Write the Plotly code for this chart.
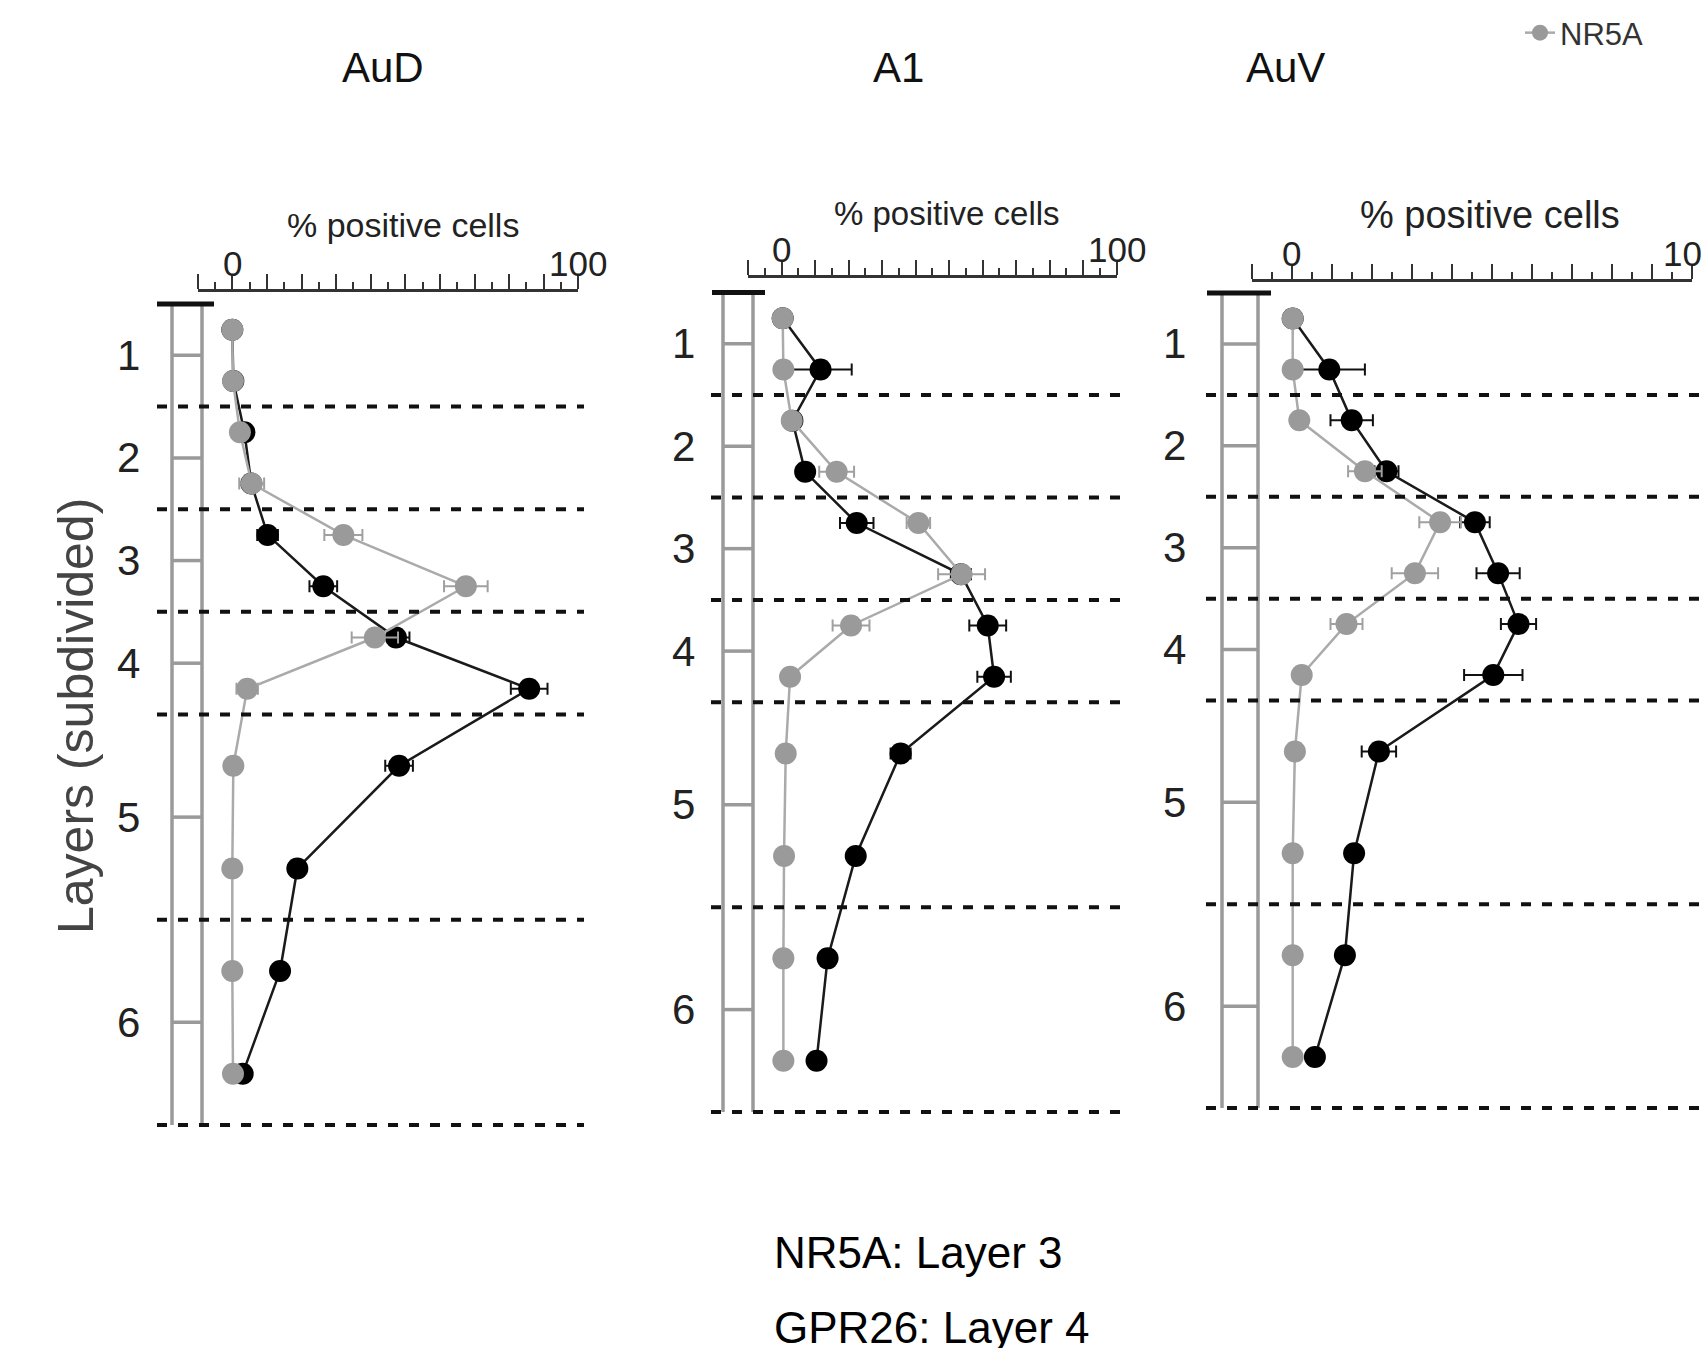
import plotly.graph_objects as go

W, H = 1701, 1348

regions = ["AuD", "A1", "AuV"]
depth = [0.25, 0.75, 1.25, 1.75, 2.25, 2.75, 3.25, 3.75, 4.5, 5.5, 6.5, 7.5]
layer_bounds = [1, 2, 3, 4, 6, 8]
layer_names = ["1", "2", "3", "4", "5", "6"]
layer_mid = [0.5, 1.5, 2.5, 3.5, 5, 7]
tick_vals = [-10, 0, 10, 20, 30, 40, 50, 60, 70, 80, 90, 100]
label_vals = [0, 100]
label_text = ["0", "100"]
minor_vals = [-5, 5, 15, 25, 35, 45, 55, 65, 75, 85, 95]

nr5a_aud = [0, 0.2, 2.2, 5.6, 32.1, 67.5, 41.2, 4.3, 0.3, 0, 0, 0.2]
nr5a_aud_err = [0, 0, 0, 3.6, 5.5, 6.3, 6.7, 3.1, 0, 0, 0, 0]
gpr26_aud = [0, 0.3, 3.5, 5.5, 10.2, 26.3, 47.3, 85.8, 48.2, 18.8, 13.8, 3.0]
gpr26_aud_err = [0, 0, 0, 0, 3, 4, 3.9, 5.3, 4, 0, 0, 0]

nr5a_a1 = [0.3, 0.5, 3.0, 16.4, 40.8, 53.7, 20.7, 2.5, 1.2, 0.7, 0.5, 0.5]
nr5a_a1_err = [0, 0, 0, 5.2, 3.5, 7, 5.5, 0, 0, 0, 0, 0]
gpr26_a1 = [0.3, 11.6, 3.2, 7.0, 22.4, 53.5, 61.5, 63.4, 35.5, 22.1, 13.7, 10.4]
gpr26_a1_err = [0, 9.3, 0, 2.5, 5, 3, 5.5, 5, 3, 0, 0, 0]

nr5a_auv = [0.25, 0.25, 1.9, 18.3, 37.1, 30.8, 13.7, 2.5, 0.8, 0.25, 0.25, 0.25]
nr5a_auv_err = [0, 0, 0, 4.2, 5.2, 5.8, 4, 0, 0, 0, 0, 0]
gpr26_auv = [0.25, 9.4, 15.0, 23.7, 45.8, 51.6, 56.7, 50.4, 21.8, 15.6, 13.3, 5.8]
gpr26_auv_err = [0, 8.9, 5.3, 3, 3.7, 5.4, 4.4, 7.3, 4.3, 0, 0, 0]

nr5a = [nr5a_aud, nr5a_a1, nr5a_auv]
nr5a_err = [nr5a_aud_err, nr5a_a1_err, nr5a_auv_err]
gpr26 = [gpr26_aud, gpr26_a1, gpr26_auv]
gpr26_err = [gpr26_aud_err, gpr26_a1_err, gpr26_auv_err]

# panel geometry in pixels
panels = [
    dict(x0=232.3, x100=578.3, y0=304.0, y8=1125.0, top=292.0, dash=(157, 584),
         lad=(172, 202), bar=(157, 214), lab=128, title=(383, 67), pc=(403, 225), pcs=34),
    dict(x0=781.7, x100=1116.7, y0=292.6, y8=1112.0, top=278.0, dash=(711, 1120),
         lad=(723, 753), bar=(712, 765), lab=683, title=(898, 67), pc=(947, 214), pcs=33),
    dict(x0=1291.7, x100=1691.7, y0=293.0, y8=1108.0, top=281.7, dash=(1206, 1720),
         lad=(1222, 1258), bar=(1207, 1271), lab=1174, title=(1285, 67), pc=(1490, 215), pcs=38),
]

FONT = "Liberation Sans, Arial, sans-serif"
GRAY = "#9a9a9a"
AXC = "#333333"

fig = go.Figure()
shapes = []
annotations = []

for i, p in enumerate(panels):
    n = "" if i == 0 else str(i + 1)
    xa, ya = "x" + n, "y" + n
    xr = [-10, 100]
    left_px = p["x0"] - 0.1 * (p["x100"] - p["x0"])
    right_px = p["x100"]
    u = (p["y8"] - p["y0"]) / 8.0
    ytop = (p["top"] - p["y0"]) / u
    ybot = 8.1
    bot_px = p["y0"] + ybot * u

    fig.add_trace(go.Scatter(
        x=gpr26[i], y=depth, mode="lines+markers", name="GPR26",
        xaxis=xa, yaxis=ya, showlegend=False,
        line=dict(color="#1a1a1a", width=2.5),
        marker=dict(color="#000000", size=22),
        error_x=dict(type="data", array=gpr26_err[i], color="#111111", thickness=2, width=6),
    ))
    fig.add_trace(go.Scatter(
        x=nr5a[i], y=depth, mode="lines+markers", name="NR5A",
        xaxis=xa, yaxis=ya, showlegend=(i == 0),
        line=dict(color="#aaaaaa", width=2.5),
        marker=dict(color=GRAY, size=22),
        error_x=dict(type="data", array=nr5a_err[i], color="#a0a0a0", thickness=2, width=6),
    ))

    fig.layout["xaxis" + n] = dict(
        domain=[left_px / W, right_px / W], anchor=ya, side="top", range=xr,
        showline=True, linecolor=AXC, linewidth=2.5, showgrid=False, zeroline=False,
        ticks="outside", ticklen=15, tickwidth=2, tickcolor=AXC,
        tickmode="array", tickvals=tick_vals, showticklabels=False,
        minor=dict(tickmode="array", tickvals=minor_vals, ticks="outside",
                   ticklen=7, tickwidth=2, tickcolor=AXC),
        fixedrange=True, automargin=False,
    )
    fig.layout["yaxis" + n] = dict(
        domain=[1 - bot_px / H, 1 - p["top"] / H], anchor=xa, range=[ybot, ytop],
        visible=False, fixedrange=True,
    )

    # tick labels (0 and 100) sitting just above the long ticks
    for v, t in zip(label_vals, label_text):
        annotations.append(dict(text=t, xref=xa, yref="paper", x=v, y=1 - (p["top"] - 7) / H,
                                showarrow=False, xanchor="center", yanchor="bottom",
                                font=dict(family=FONT, size=35, color="#222")))

    dref = xa + " domain"

    def fx(px, left_px=left_px, right_px=right_px):
        return (px - left_px) / (right_px - left_px)

    # layer boundaries (dashed)
    for b in layer_bounds:
        shapes.append(dict(type="line", xref=dref, yref=ya, x0=fx(p["dash"][0]), x1=fx(p["dash"][1]),
                           y0=b, y1=b, line=dict(color="#111", width=4, dash="10px,11px"), layer="above"))
    # ladder
    for lx in p["lad"]:
        shapes.append(dict(type="line", xref=dref, yref=ya, x0=fx(lx), x1=fx(lx), y0=0, y1=8,
                           line=dict(color=GRAY, width=3.5), layer="below"))
    for m in layer_mid:
        shapes.append(dict(type="line", xref=dref, yref=ya, x0=fx(p["lad"][0]), x1=fx(p["lad"][1]),
                           y0=m, y1=m, line=dict(color=GRAY, width=3.5), layer="below"))
    shapes.append(dict(type="line", xref=dref, yref=ya, x0=fx(p["bar"][0]), x1=fx(p["bar"][1]),
                       y0=0, y1=0, line=dict(color="#111", width=5), layer="above"))

    for name, m in zip(layer_names, layer_mid):
        annotations.append(dict(text=name, xref="paper", yref=ya, x=p["lab"] / W, y=m,
                                showarrow=False, xanchor="center", yanchor="middle",
                                font=dict(family=FONT, size=42, color="#222")))
    annotations.append(dict(text=regions[i], xref="paper", yref="paper",
                            x=p["title"][0] / W, y=1 - p["title"][1] / H,
                            showarrow=False, xanchor="center", yanchor="middle",
                            font=dict(family=FONT, size=42, color="#111")))
    annotations.append(dict(text="% positive cells", xref="paper", yref="paper",
                            x=p["pc"][0] / W, y=1 - p["pc"][1] / H,
                            showarrow=False, xanchor="center", yanchor="middle",
                            font=dict(family=FONT, size=p["pcs"], color="#222")))

annotations.append(dict(text="Layers (subdivided)", xref="paper", yref="paper",
                        x=76 / W, y=1 - 716 / H, textangle=-90, showarrow=False,
                        xanchor="center", yanchor="middle",
                        font=dict(family=FONT, size=50, color="#444")))
annotations.append(dict(text="NR5A: Layer 3", xref="paper", yref="paper",
                        x=772 / W, y=1 - 1252 / H, showarrow=False,
                        xanchor="left", yanchor="middle",
                        font=dict(family=FONT, size=44, color="#000")))
annotations.append(dict(text="GPR26: Layer 4", xref="paper", yref="paper",
                        x=772 / W, y=1 - 1327 / H, showarrow=False,
                        xanchor="left", yanchor="middle",
                        font=dict(family=FONT, size=44, color="#000")))

fig.update_layout(
    width=W, height=H, margin=dict(l=0, r=0, t=0, b=0),
    paper_bgcolor="white", plot_bgcolor="rgba(0,0,0,0)",
    shapes=shapes, annotations=annotations,
    showlegend=True,
    legend=dict(x=1520 / W, y=1 - 6 / H, xanchor="left", yanchor="top",
                bgcolor="rgba(0,0,0,0)", font=dict(family=FONT, size=31, color="#333")),
    font=dict(family=FONT),
)

fig.write_html("out.html", config={"displayModeBar": False},
               post_script="document.body.style.margin='0';")
